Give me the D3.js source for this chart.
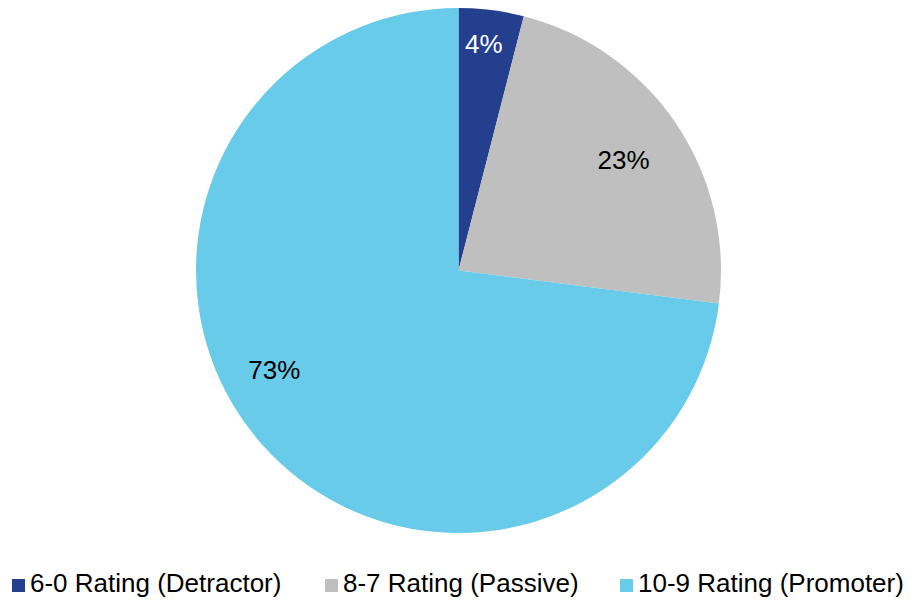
<!DOCTYPE html>
<html>
<head>
<meta charset="utf-8">
<script src="https://cdn.jsdelivr.net/npm/d3@7"></script>
<style>
  body { margin: 0; background: #fff; }
  svg { display: block; font-family: "Liberation Sans", Arial, sans-serif; }
</style>
</head>
<body>
<div class="chart"></div>
<script>
var categories = ["6-0 Rating (Detractor)", "8-7 Rating (Passive)", "10-9 Rating (Promoter)"];
var values = [4, 23, 73];
var valueLabels = ["4%", "23%", "73%"];

var colors = ["#243f8e", "#bfbfbf", "#68cbe9"];
var labelColors = ["#ffffff", "#000000", "#000000"];
// label placement: distance from centre and angle shift (degrees) from slice middle
var labelRadius = [227.6, 198.6, 209.4];
var labelShift = [-0.8, 0.4, 13];

var w = 917, h = 601;
var cx = 458.5, cy = 270.5, r = 262.5;

var svg = d3.select(".chart")
    .append("svg")
    .attr("width", w)
    .attr("height", h);

var pie = d3.pie().sort(null).value(function (d) { return d; });
var arcs = pie(values);

var arc = d3.arc().innerRadius(0).outerRadius(r);

var g = svg.append("g")
    .attr("transform", "translate(" + cx + "," + cy + ")");

g.selectAll("path")
    .data(arcs)
    .enter()
    .append("path")
    .attr("d", arc)
    .attr("fill", function (d, i) { return colors[i]; });

g.selectAll("text.lbl")
    .data(arcs)
    .enter()
    .append("text")
    .attr("class", "lbl")
    .attr("transform", function (d, i) {
        var a = (d.startAngle + d.endAngle) / 2 + labelShift[i] * Math.PI / 180;
        var x = Math.sin(a) * labelRadius[i], y = -Math.cos(a) * labelRadius[i];
        return "translate(" + x + "," + y + ")";
    })
    .attr("text-anchor", "middle")
    .attr("dy", "0.35em")
    .attr("font-size", 26)
    .attr("fill", function (d, i) { return labelColors[i]; })
    .text(function (d, i) { return valueLabels[i]; });

// legend
var legendX = [12, 325, 620];
var legend = svg.selectAll("g.legend")
    .data(categories)
    .enter()
    .append("g")
    .attr("class", "legend")
    .attr("transform", function (d, i) { return "translate(" + legendX[i] + ",579)"; });

legend.append("rect")
    .attr("width", 13)
    .attr("height", 13)
    .attr("fill", function (d, i) { return colors[i]; });

legend.append("text")
    .attr("x", 18)
    .attr("y", 13)
    .attr("font-size", 26)
    .attr("fill", "#000")
    .text(function (d) { return d; });
</script>
</body>
</html>
